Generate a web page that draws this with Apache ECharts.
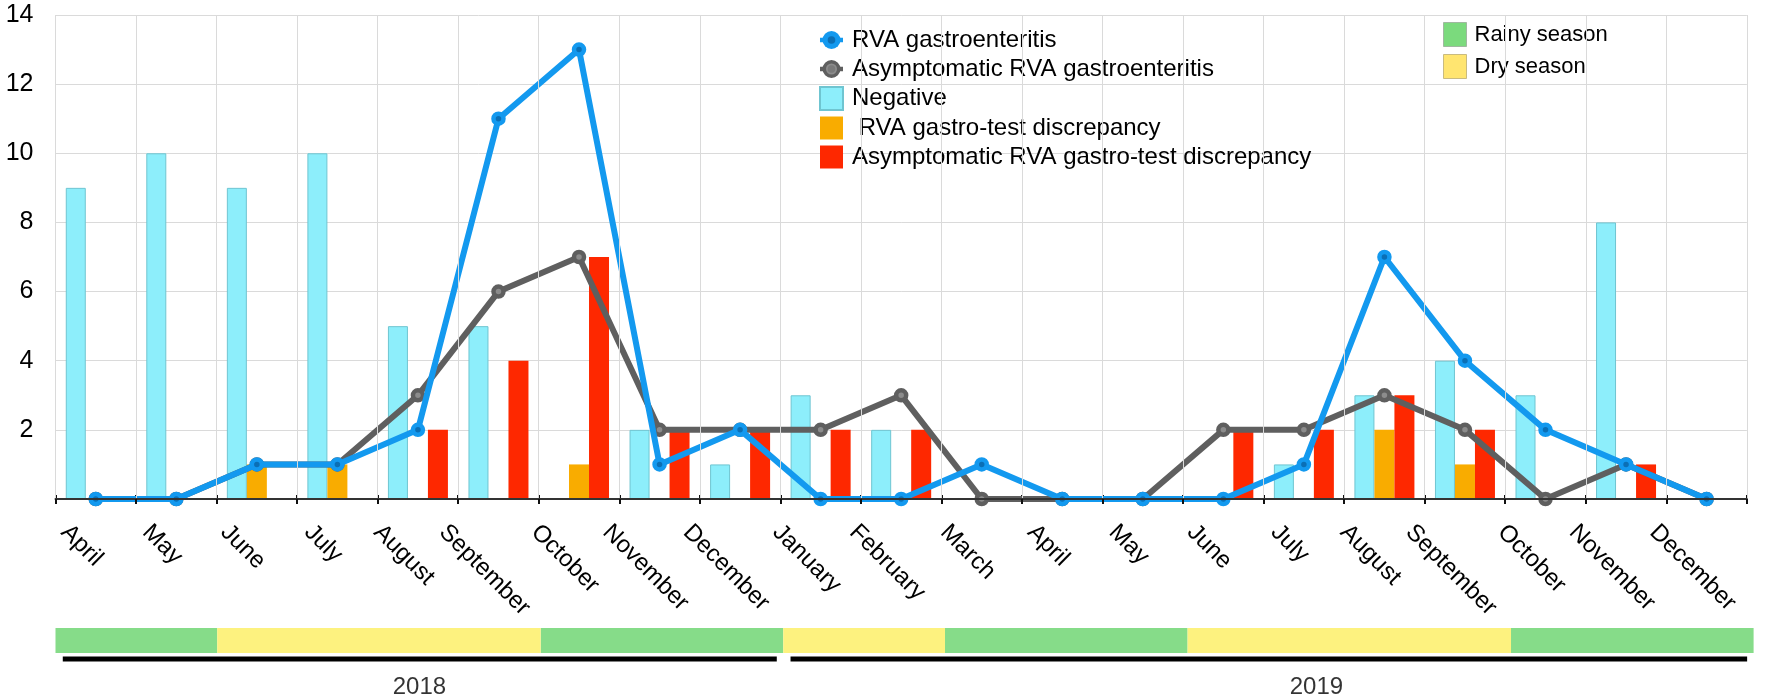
<!DOCTYPE html>
<html><head><meta charset="utf-8">
<script src="https://cdn.jsdelivr.net/npm/echarts@6.0.0/dist/echarts.min.js"></script>
<style>html,body{margin:0;padding:0;background:#fff}#c{width:1770px;height:698px}</style>
</head><body><div id="c"></div>
<script>
// ---- data ----
const months = ['April','May','June','July','August','September','October','November','December','January','February','March','April','May','June','July','August','September','October','November','December'];
const rvaGastro = [0,0,1,1,2,11,13,1,2,0,0,1,0,0,0,1,7,4,2,1,0];
const asymGastro = [0,0,1,1,3,6,7,2,2,2,3,0,0,0,2,2,3,2,0,1,0];
const negative = [9,10,9,10,5,5,0,2,1,3,2,0,0,0,0,1,3,4,3,8,0];
const rvaDiscrepancy = [0,0,1,1,0,0,1,0,0,0,0,0,0,0,0,0,2,1,0,0,0];
const asymDiscrepancy = [0,0,0,0,2,4,7,2,2,2,2,0,0,0,2,2,3,2,0,1,0];
const seasons = ['Rainy','Rainy','Dry','Dry','Dry','Dry','Rainy','Rainy','Rainy','Dry','Dry','Rainy','Rainy','Rainy','Dry','Dry','Dry','Dry','Rainy','Rainy','Rainy'];
const years = ['2018','2019'];
const yearMonthCounts = [9, 12];

// ---- style ----
const FONT = '"Liberation Sans", Arial, Helvetica, sans-serif';
const LABEL_SIZE = 24, LABEL_DX = -14, LABEL_MARGIN = 10, LABEL_TOP = 11;
const K = Math.SQRT1_2;
const ctx = document.createElement('canvas').getContext('2d');
ctx.font = LABEL_SIZE + 'px "Liberation Sans"';
const xData = months.map(m => {
  const w = ctx.measureText(m).width;
  const D = LABEL_TOP + (w + LABEL_SIZE) * K / 2;
  const a = (D + LABEL_DX) / (2 * K);
  const b = (D - LABEL_DX) / (2 * K);
  return { value: m, textStyle: {
    align: 'center', verticalAlign: 'top', lineHeight: 2 * b,
    padding: [0, 0, 0, Math.max(0, 2 * a)],
    color: '#000', fontSize: LABEL_SIZE, fontFamily: FONT } };
});

// contiguous season runs (month index ranges) built from the seasons list
const seasonRuns = { Rainy: [], Dry: [] };
seasons.forEach((s, i) => {
  const runs = seasonRuns[s];
  const last = runs[runs.length - 1];
  if (last && last[1] === i) last[1] = i + 1; else runs.push([i, i + 1]);
});

const GL = 55.5, GR = 16.4;
let acc = 0;
const yearLineSeries = [];
const yearLabelData = [];
const yearLabelOffsets = [[0, 28], [48, 28]];
years.forEach((y, i) => {
  const s = acc, e = acc + yearMonthCounts[i];
  acc = e;
  yearLineSeries.push({
    type: 'line', xAxisIndex: 3, yAxisIndex: 2, symbol: 'none', silent: true,
    data: [[s + 0.09, 0.5], [e - 0.08, 0.5]],
    lineStyle: { color: '#000', width: 5, cap: 'butt' }, z: 3
  });
  yearLabelData.push({ value: [(s + e) / 2, 0.5], name: y, label: { offset: yearLabelOffsets[i] } });
});

const svgIcon = (line, fill, stroke, sw, dot) => 'image://data:image/svg+xml;charset=utf-8,' + encodeURIComponent(
  '<svg xmlns="http://www.w3.org/2000/svg" width="23" height="23" viewBox="0 0 23 23">' +
  '<line x1="0" y1="11.5" x2="23" y2="11.5" stroke="' + line + '" stroke-width="4.5"/>' +
  '<circle cx="11.5" cy="11.5" r="' + (9 - sw / 2) + '" fill="' + fill + '" stroke="' + stroke + '" stroke-width="' + sw + '"/>' +
  '<circle cx="11.5" cy="11.5" r="3.8" fill="' + dot + '"/></svg>');

const blueItem = { color: '#0b6fb5', borderColor: '#1399EF', borderWidth: 4.5 };
const greyItem = { color: '#8c8c8c', borderColor: '#5f5f5f', borderWidth: 4.5 };

const seasonSeries = (name, color) => ({
  name, type: 'custom', xAxisIndex: 2, yAxisIndex: 1, silent: true,
  itemStyle: { color },
  data: seasonRuns[name.split(' ')[0]],
  encode: { x: [0, 1] },
  renderItem: (params, api) => {
    const p0 = api.coord([api.value(0), 1]);
    const p1 = api.coord([api.value(1), 0]);
    return { type: 'rect', shape: { x: p0[0], y: p0[1], width: p1[0] - p0[0], height: p1[1] - p0[1] },
      style: { fill: color } };
  }
});

const option = {
  animation: false,
  backgroundColor: '#fff',
  textStyle: { fontFamily: FONT },
  grid: [
    { left: GL, right: GR, top: 15, bottom: 199 },
    { left: GL, right: GR, top: 628, height: 25 },
    { left: GL, right: GR, top: 650, height: 18 }
  ],
  xAxis: [
    { type: 'category', gridIndex: 0, data: xData, boundaryGap: true, z: 10,
      axisLine: { lineStyle: { color: '#333', width: 2 } },
      axisTick: { show: true, length: 5, interval: 0, lineStyle: { color: '#111', width: 2 } },
      splitLine: { show: true, interval: 0, lineStyle: { color: '#dadada', width: 1 } },
      axisLabel: { interval: 0, rotate: -45, margin: LABEL_MARGIN,
        color: '#000', fontSize: LABEL_SIZE, fontFamily: FONT } },
    { type: 'category', gridIndex: 0, data: months, position: 'bottom', boundaryGap: true,
      axisLine: { show: false },
      axisTick: { show: true, inside: true, length: 4, interval: 0, lineStyle: { color: '#111', width: 2 } },
      axisLabel: { show: false }, splitLine: { show: false } },
    { type: 'value', gridIndex: 1, min: 0, max: months.length, show: false },
    { type: 'value', gridIndex: 2, min: 0, max: months.length, show: false }
  ],
  yAxis: [
    { type: 'value', gridIndex: 0, min: 0, max: 14, interval: 2,
      axisLine: { show: false }, axisTick: { show: false },
      splitLine: { lineStyle: { color: '#dadada', width: 1 } },
      axisLabel: { formatter: v => v === 0 ? '' : String(v), color: '#000', fontSize: 25, margin: 22,
        fontFamily: FONT, padding: [6, 0, 0, 0] } },
    { type: 'value', gridIndex: 1, min: 0, max: 1, show: false },
    { type: 'value', gridIndex: 2, min: 0, max: 1, show: false }
  ],
  legend: [
    { orient: 'vertical', left: 814, top: 23, itemWidth: 23, itemHeight: 23, itemGap: 5,
      selectedMode: false,
      textStyle: { fontSize: 24, lineHeight: 22, color: '#000', fontFamily: FONT, padding: [0, 0, 0, 4] },
      data: [
        { name: 'RVA gastroenteritis', icon: svgIcon('#1399EF', '#1399EF', '#1399EF', 0, '#0b6fb5') },
        { name: 'Asymptomatic RVA gastroenteritis', icon: svgIcon('#5f5f5f', '#8c8c8c', '#5f5f5f', 3.5, '#7a7a7a') },
        { name: 'Negative', icon: 'rect' },
        { name: ' RVA gastro-test discrepancy', icon: 'rect' },
        { name: 'Asymptomatic RVA gastro-test discrepancy', icon: 'rect' }
      ] },
    { orient: 'vertical', left: 1438, top: 17, itemWidth: 23, itemHeight: 24, itemGap: 7,
      selectedMode: false,
      textStyle: { fontSize: 22, lineHeight: 24, color: '#000', fontFamily: FONT, padding: [0, 0, 0, 3] },
      data: [
        { name: 'Rainy season', icon: 'rect', itemStyle: { color: '#7BDA7D', borderColor: '#a0b8a0', borderWidth: 1 } },
        { name: 'Dry season', icon: 'rect', itemStyle: { color: '#FFE570', borderColor: '#c9bb80', borderWidth: 1 } }
      ] }
  ],
  series: [
    { name: 'Negative', type: 'bar', xAxisIndex: 0, yAxisIndex: 0, data: negative,
      barWidth: 20, barGap: '0%',
      itemStyle: { color: '#8DEEFB', borderColor: '#6FC5D1', borderWidth: 1 } },
    { name: ' RVA gastro-test discrepancy', type: 'bar', xAxisIndex: 0, yAxisIndex: 0, data: rvaDiscrepancy,
      barWidth: 20, barGap: '0%', itemStyle: { color: '#F9AC00' } },
    { name: 'Asymptomatic RVA gastro-test discrepancy', type: 'bar', xAxisIndex: 0, yAxisIndex: 0, data: asymDiscrepancy,
      barWidth: 20, barGap: '0%', itemStyle: { color: '#FE2800' } },
    { name: 'Asymptomatic RVA gastroenteritis', type: 'line', xAxisIndex: 0, yAxisIndex: 0, data: asymGastro,
      symbol: 'circle', symbolSize: 10, showAllSymbol: true, z: 4,
      itemStyle: greyItem, lineStyle: { color: '#5f5f5f', width: 6, join: 'round' } },
    { name: 'RVA gastroenteritis', type: 'line', xAxisIndex: 0, yAxisIndex: 0, data: rvaGastro,
      symbol: 'circle', symbolSize: 10, showAllSymbol: true, z: 5,
      itemStyle: blueItem, lineStyle: { color: '#1399EF', width: 6, join: 'round' } },
    seasonSeries('Rainy season', '#86DC89'),
    seasonSeries('Dry season', '#FDF27F'),
    ...yearLineSeries,
    { type: 'scatter', xAxisIndex: 3, yAxisIndex: 2, symbolSize: 0, silent: true, data: yearLabelData,
      label: { show: true, position: 'inside', formatter: '{b}', color: '#000', fontSize: 24, fontFamily: FONT } }
  ]
};
const chart = echarts.init(document.getElementById('c'), null, { renderer: 'canvas' });
chart.setOption(option);
</script>
</body></html>
